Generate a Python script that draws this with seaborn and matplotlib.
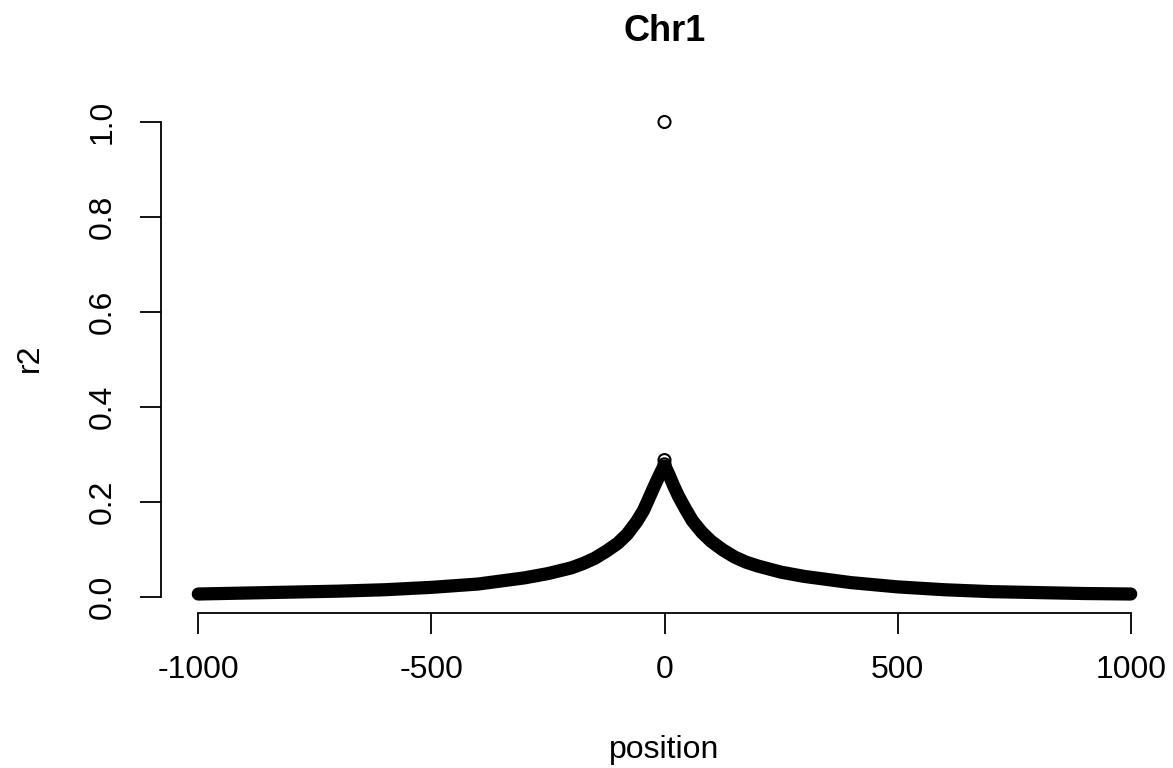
import pandas as pd
import numpy as np
import matplotlib
matplotlib.use("Agg")
import matplotlib.pyplot as plt
import seaborn as sns

# ==========================================
# Data
# ==========================================

left_pos = [-1000, -900, -800, -700, -600, -500, -400, -300, -250, -200,
            -175, -150, -125, -100, -80, -60, -45, -30, -20, -10, -5, -1]
left_r2 = [0.006, 0.008, 0.010, 0.012, 0.015, 0.020, 0.027, 0.040, 0.049, 0.061,
           0.070, 0.081, 0.096, 0.113, 0.132, 0.158, 0.182, 0.215, 0.237, 0.258, 0.268, 0.275]

right_pos = [1, 5, 10, 20, 30, 45, 60, 80, 100, 125, 150,
             175, 200, 250, 300, 400, 500, 600, 700, 800, 900, 1000]
right_r2 = [0.275, 0.267, 0.256, 0.233, 0.212, 0.185, 0.160, 0.136, 0.117, 0.099, 0.084,
            0.073, 0.065, 0.052, 0.043, 0.030, 0.021, 0.015, 0.011, 0.009, 0.007, 0.006]

center_pos = [0, 0, 0]
center_r2 = [1.0, 0.288, 0.279]

x_ticks = [-1000, -500, 0, 500, 1000]
y_ticks = [0.0, 0.2, 0.4, 0.6, 0.8, 1.0]
y_ticklabels = ["0.0", "0.2", "0.4", "0.6", "0.8", "1.0"]

df = pd.DataFrame({
    "position": left_pos + right_pos,
    "r2": left_r2 + right_r2,
    "branch": ["left"] * len(left_pos) + ["right"] * len(right_pos),
})
df_center = pd.DataFrame({"position": center_pos, "r2": center_r2})

# ==========================================
# Plot
# ==========================================

sns.set_style("white")
plt.rcParams["font.family"] = ["Liberation Sans", "DejaVu Sans"]

fig = plt.figure(figsize=(11.73, 7.68), dpi=100)
ax = fig.add_axes([161 / 1173, 155 / 768, 1007 / 1173, 510 / 768])

# dense open circles in the original merge into a solid band
sns.lineplot(data=df, x="position", y="r2", units="branch", estimator=None,
             color="black", linewidth=9.5, solid_capstyle="round",
             solid_joinstyle="round", ax=ax, legend=False)

sns.scatterplot(data=df_center, x="position", y="r2", s=75,
                facecolor="none", edgecolor="black", linewidth=1.5,
                marker="o", ax=ax, legend=False)

ax.set_xlim(-1080, 1080)
ax.set_ylim(-0.034, 1.04)

ax.set_xticks(x_ticks)
ax.set_xticklabels([str(t) for t in x_ticks])
ax.set_yticks(y_ticks)
ax.set_yticklabels(y_ticklabels, rotation=90, va="center")

for side in ["top", "right"]:
    ax.spines[side].set_visible(False)
for side in ["left", "bottom"]:
    ax.spines[side].set_color("black")
    ax.spines[side].set_linewidth(1.3)
ax.spines["left"].set_bounds(0, 1)
ax.spines["bottom"].set_bounds(-1000, 1000)

ax.tick_params(axis="both", direction="out", length=15, width=1.3,
               color="black", labelsize=23, labelcolor="black",
               bottom=True, left=True)
ax.tick_params(axis="x", pad=15)
ax.tick_params(axis="y", pad=16)

ax.set_xlabel("position", fontsize=23, color="black")
ax.xaxis.set_label_coords(0.5, -0.268)
ax.xaxis.label.set_va("center")
ax.set_ylabel("r2", fontsize=23, color="black")
ax.yaxis.set_label_coords(-0.13, 0.5)
ax.yaxis.label.set_va("center")

ax.text(0.5, 1.14, "Chr1", transform=ax.transAxes, ha="center", va="center",
        fontsize=26, fontweight="bold", color="black")

plt.savefig("out.png", dpi=100)
